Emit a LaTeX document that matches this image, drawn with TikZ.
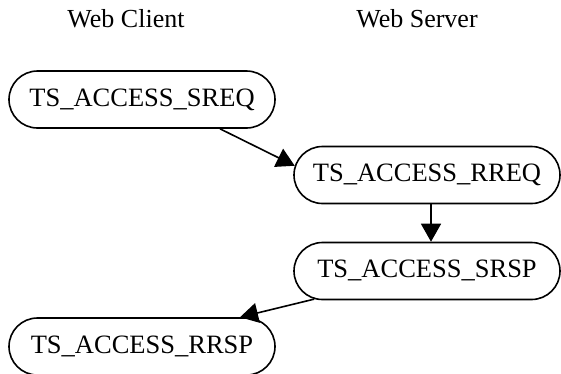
\documentclass[tikz,border=0pt]{standalone}
\usepackage{fontspec}
\setmainfont{Liberation Serif}
\usetikzlibrary{arrows.meta,calc,shapes.misc}
\begin{document}
\begin{tikzpicture}[x=1pt,y=-1pt,
  statebox/.style={draw=black,line width=1.6pt,rounded rectangle,
    rounded rectangle arc length=180,
    minimum width=266pt,minimum height=57pt,inner sep=0pt,
    text height=17pt,text depth=4pt,
    font=\fontsize{26.5}{30}\selectfont},
  title/.style={anchor=base,inner sep=0pt,font=\fontsize{26}{30}\selectfont},
  arr/.style={draw=black,line width=1.6pt,-{Triangle[length=18pt,width=20pt]}}]
\useasboundingbox (0,0) rectangle (561,373);
\node[title] (client) at (126,27) {Web Client};
\node[title] (server) at (417,27) {Web Server};
\node[statebox] (sreq) at (142,99.5) {TS\_ACCESS\_SREQ};
\node[statebox] (rreq) at (427,175) {TS\_ACCESS\_RREQ};
\node[statebox] (srsp) at (427,271) {TS\_ACCESS\_SRSP};
\node[statebox] (rrsp) at (142,346.5) {TS\_ACCESS\_RRSP};
\draw[arr] ([xshift=78pt]sreq.south) -- (rreq.176);
\draw[arr] ([xshift=4pt]rreq.south) -- ([xshift=4pt]srsp.north);
\draw[arr] (srsp.194) -- ([xshift=98pt]rrsp.north);
\end{tikzpicture}
\end{document}
